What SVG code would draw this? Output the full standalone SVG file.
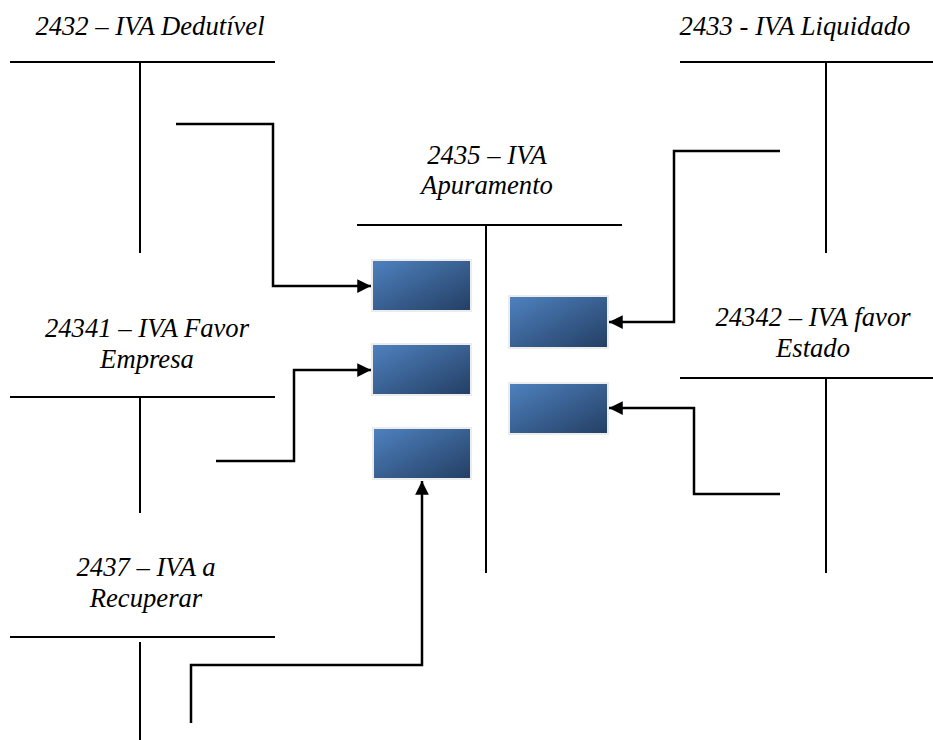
<svg xmlns="http://www.w3.org/2000/svg" width="933" height="740" viewBox="0 0 933 740">
<style>
.t{font-family:"Liberation Serif",serif;font-style:italic;font-size:26.67px;fill:#000;text-anchor:middle}
.ln{stroke:#000;stroke-width:2;fill:none}
.cn{stroke:#000;stroke-width:2.5;fill:none}
.bx{fill:url(#g);stroke:#ececec;stroke-width:2}
</style>
<defs>
<linearGradient id="g" x1="0" y1="0" x2="1" y2="1">
<stop offset="0" stop-color="#4f82c0"/>
<stop offset="1" stop-color="#233e63"/>
</linearGradient>
<marker id="ah" viewBox="0 0 10 10" refX="10" refY="5" markerWidth="6" markerHeight="5.5" orient="auto" markerUnits="strokeWidth">
<path d="M0,0 L10,5 L0,10 z" fill="#000"/>
</marker>
</defs>
<g id="t2432">
<text class="t" x="150" y="35">2432 – IVA Dedutível</text>
<line class="ln" x1="10" y1="62" x2="275" y2="62"/>
<line class="ln" x1="140" y1="62" x2="140" y2="253"/>
</g>
<g id="t2433">
<text class="t" x="795" y="35">2433 - IVA Liquidado</text>
<line class="ln" x1="680" y1="62" x2="933" y2="62"/>
<line class="ln" x1="826" y1="62" x2="826" y2="253"/>
</g>
<g id="t2435">
<text class="t" x="487" y="164">2435 – IVA</text>
<text class="t" x="487" y="194">Apuramento</text>
<line class="ln" x1="357" y1="225" x2="622" y2="225"/>
<line class="ln" x1="486" y1="225" x2="486" y2="573"/>
</g>
<g id="t24341">
<text class="t" x="147" y="337">24341 – IVA Favor</text>
<text class="t" x="147" y="368">Empresa</text>
<line class="ln" x1="10" y1="397" x2="275" y2="397"/>
<line class="ln" x1="140" y1="397" x2="140" y2="513"/>
</g>
<g id="t24342">
<text class="t" x="813" y="326">24342 – IVA favor</text>
<text class="t" x="813" y="357">Estado</text>
<line class="ln" x1="680" y1="378" x2="933" y2="378"/>
<line class="ln" x1="826" y1="378" x2="826" y2="573"/>
</g>
<g id="t2437">
<text class="t" x="146" y="576">2437 – IVA a</text>
<text class="t" x="146" y="607">Recuperar</text>
<line class="ln" x1="10" y1="637" x2="275" y2="637"/>
<line class="ln" x1="140" y1="642" x2="140" y2="740"/>
</g>
<g id="b1"><rect class="bx" x="372" y="260" width="99" height="51"/></g>
<g id="b2"><rect class="bx" x="372" y="344" width="99" height="51"/></g>
<g id="b3"><rect class="bx" x="373" y="428" width="98" height="51"/></g>
<g id="b4"><rect class="bx" x="509" y="296" width="99" height="52"/></g>
<g id="b5"><rect class="bx" x="509" y="383" width="99" height="51"/></g>
<g id="connectors">
<polyline class="cn" points="176,124 273,124 273,286 371,286" marker-end="url(#ah)"/>
<polyline class="cn" points="216,461 294,461 294,370 371,370" marker-end="url(#ah)"/>
<polyline class="cn" points="191,723 191,665 422,665 422,481" marker-end="url(#ah)"/>
<polyline class="cn" points="780,151 674,151 674,322 609,322" marker-end="url(#ah)"/>
<polyline class="cn" points="780,494 694,494 694,408 609,408" marker-end="url(#ah)"/>
</g>
</svg>
